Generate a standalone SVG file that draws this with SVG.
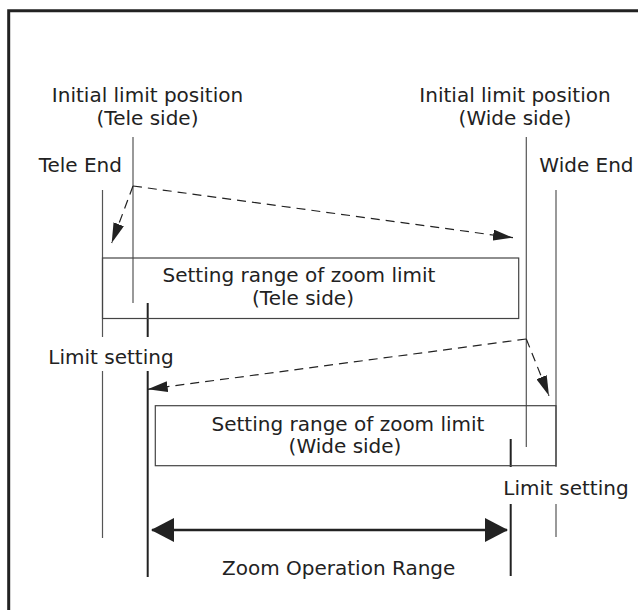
<svg xmlns="http://www.w3.org/2000/svg" width="638" height="610" viewBox="0 0 638 610">
<style>
text{font-family:"DejaVu Sans","Liberation Sans",sans-serif;font-size:20px;fill:#222}
.m{text-anchor:middle}
.thin{stroke:#555;stroke-width:1.2;fill:none}
.thick{stroke:#222;stroke-width:2;fill:none}
.box{stroke:#444;stroke-width:1.2;fill:none}
.dash{stroke:#222;stroke-width:1.2;fill:none;stroke-dasharray:9 6}
</style>
<defs>
<marker id="ah" markerUnits="userSpaceOnUse" markerWidth="20" markerHeight="11" refX="20" refY="5.5" orient="auto">
<path d="M0,0 L20,5.5 L0,11 z" fill="#222"/>
</marker>
<marker id="big" markerUnits="userSpaceOnUse" markerWidth="23" markerHeight="24" refX="22" refY="12" orient="auto-start-reverse">
<path d="M0,0 L23,12 L0,24 z" fill="#222"/>
</marker>
</defs>
<path d="M8.7 610 V10.7 H638" stroke="#222" stroke-width="3" fill="none"/>

<g id="tele-end">
<line class="thin" x1="102.5" y1="190" x2="102.5" y2="337"/>
<line class="thin" x1="102.5" y1="371" x2="102.5" y2="538"/>
<text x="122" y="171.5" text-anchor="end">Tele End</text>
</g>
<g id="initial-tele">
<line class="thin" x1="133" y1="137" x2="133" y2="303"/>
<text class="m" x="147.5" y="101.5">Initial limit position</text>
<text class="m" x="147.5" y="125">(Tele side)</text>
</g>
<g id="limit-tele">
<line class="thick" x1="147.7" y1="303" x2="147.7" y2="337"/>
<line class="thick" x1="147.7" y1="371" x2="147.7" y2="577"/>
<text x="48.3" y="364.3">Limit setting</text>
</g>
<g id="initial-wide">
<line class="thin" x1="526.3" y1="137" x2="526.3" y2="447"/>
<text class="m" x="515" y="101.5">Initial limit position</text>
<text class="m" x="515" y="125">(Wide side)</text>
</g>
<g id="wide-end">
<line class="thin" x1="556" y1="190" x2="556" y2="467"/>
<line class="thin" x1="556" y1="504" x2="556" y2="537"/>
<text x="539.3" y="171.5">Wide End</text>
</g>
<g id="limit-wide">
<line class="thick" x1="510.7" y1="439" x2="510.7" y2="467"/>
<line class="thick" x1="510.7" y1="504" x2="510.7" y2="576"/>
<text x="503.3" y="495">Limit setting</text>
</g>
<g id="range-tele">
<rect class="box" x="102.5" y="258" width="416.2" height="60.5"/>
<text class="m" x="299" y="282">Setting range of zoom limit</text>
<text class="m" x="303" y="305">(Tele side)</text>
</g>
<g id="range-wide">
<rect class="box" x="155.3" y="405.7" width="400.7" height="60"/>
<text class="m" x="348" y="430.5">Setting range of zoom limit</text>
<text class="m" x="345" y="453">(Wide side)</text>
</g>
<g id="zoom-range">
<text class="m" x="338.7" y="575">Zoom Operation Range</text>
</g>

<g id="connectors">
<line class="dash" x1="133" y1="186" x2="111.7" y2="243" marker-end="url(#ah)"/>
<line class="dash" x1="133" y1="186" x2="513" y2="237.7" marker-end="url(#ah)"/>
<line class="dash" x1="526.3" y1="339" x2="147.7" y2="389.3" marker-end="url(#ah)"/>
<line class="dash" x1="526.3" y1="339" x2="549" y2="395.7" marker-end="url(#ah)"/>
<line x1="152" y1="530" x2="507" y2="530" stroke="#222" stroke-width="2.5" marker-start="url(#big)" marker-end="url(#big)"/>
</g>
</svg>
